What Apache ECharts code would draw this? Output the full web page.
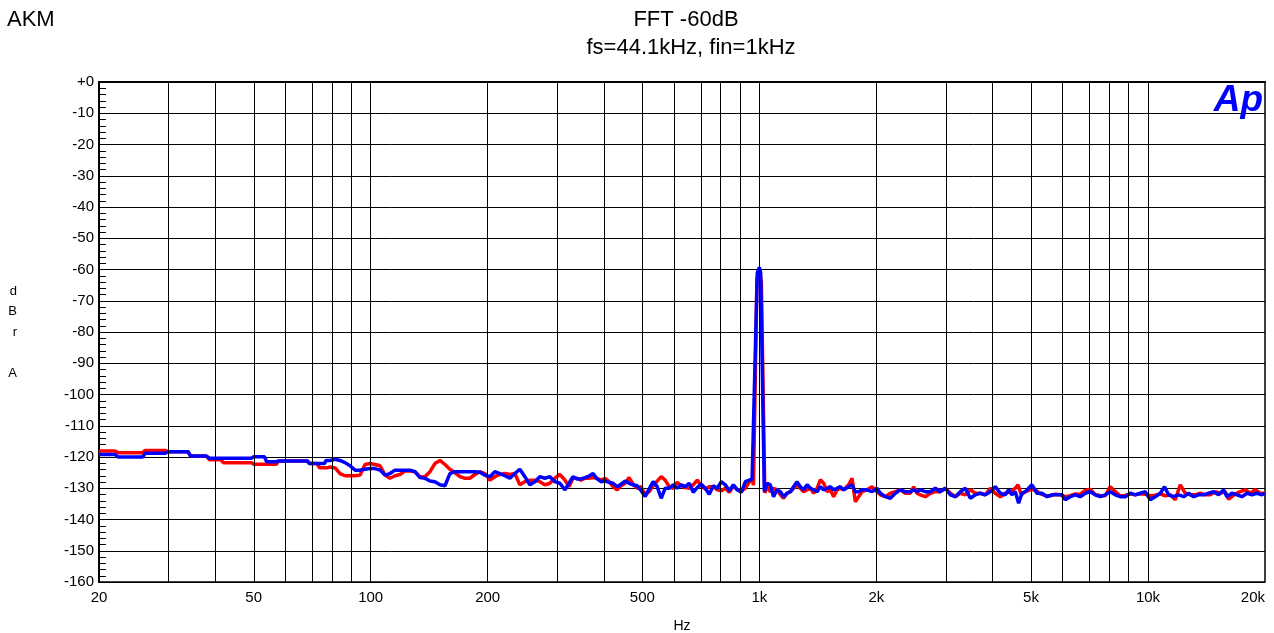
<!DOCTYPE html>
<html>
<head>
<meta charset="utf-8">
<script src="https://cdn.jsdelivr.net/npm/echarts@6/dist/echarts.min.js"></script>
<style>
  html, body { margin: 0; padding: 0; background: #fff; }
  #chart { width: 1274px; height: 633px; }
</style>
</head>
<body>
<div id="chart"></div>
<script>
// frequency labels and grid lines (Hz)
var labelFreqs = [20, 50, 100, 200, 500, 1000, 2000, 5000, 10000, 20000];
var gridFreqs = [30, 40, 50, 60, 70, 80, 90, 100, 200, 300, 400, 500, 600, 700, 800, 900,
  1000, 2000, 3000, 4000, 5000, 6000, 7000, 8000, 9000, 10000];

// red trace [Hz, dBr]
var redTrace = [
  [20, -118.1], [22.0, -118.1], [22.4, -118.6], [25.9, -118.6], [26.3, -117.9], [29.6, -117.9],
  [30.1, -118.3], [33.9, -118.3], [34.4, -119.7], [37.8, -119.7], [38.5, -120.9], [41.2, -120.9],
  [41.8, -121.8], [49.3, -121.8], [50.0, -122.3], [57.2, -122.3], [58.0, -121.3], [68.8, -121.3],
  [69.6, -122.1], [72.9, -122.1], [73.8, -123.4], [77.5, -123.4],
  [78.6, -123.2], [81.0, -123.5], [83.4, -125.3], [85.9, -126], [88.5, -126], [91.2, -126],
  [93.9, -125.8], [96.7, -122.4], [99.6, -122.1], [102.6, -122.4], [105.7, -122.8], [108.9, -125.8],
  [112.1, -126.8], [115.5, -126], [119.0, -125.6], [122.5, -124.5], [126.2, -124.5], [130.0, -124.7],
  [133.9, -126.3], [137.9, -126.3], [142.1, -124.7], [146.3, -122.1], [150.8, -121.1], [155.3, -122.4],
  [159.9, -123.9], [164.7, -125], [169.7, -126.3], [174.8, -126.8], [180.0, -126.8], [185.4, -125.6],
  [191.0, -124.7], [196.7, -125.3], [202.6, -127.4], [208.7, -126.3], [215.0, -125.6], [221.5, -125.3],
  [228.1, -125.6], [235.0, -125.3], [242.0, -128.9], [249.3, -127.9], [256.8, -127.4], [264.5, -127.4],
  [272.4, -127.9], [280.6, -128.9], [289.1, -128.4], [297.8, -126.8], [306.7, -125.6],
  [316.2, -127.4], [323.8, -129.5], [331.6, -126.8], [339.5, -126.8], [347.7, -127.4], [356.0, -126.8],
  [364.6, -126.8], [373.4, -126.6], [382.3, -126.8], [391.5, -127.4], [400.9, -126.8], [410.6, -127.9],
  [420.4, -129.5], [430.5, -130.5], [440.9, -129.2], [451.5, -128.4], [462.3, -126.6], [473.4, -128.7],
  [484.8, -130], [496.5, -129.5], [508.4, -132.1], [520.6, -131.1], [533.1, -129.2], [545.9, -127.7],
  [559.0, -126.3], [572.5, -127.4], [586.2, -129.5], [600.3, -130], [614.7, -128.1], [629.5, -129.2],
  [644.6, -129.8], [660.1, -130], [676.0, -128.9], [692.2, -127.4], [708.9, -129.2], [725.9, -130.2],
  [743.4, -129.5], [761.2, -129.5], [779.5, -130.5], [798.3, -130.8], [817.5, -130], [837.1, -131.3],
  [857.3, -129.2], [877.9, -130.5], [899.0, -130.8], [920.6, -130], [942.8, -127.9], [958, -127.4],
  [966, -129], [986, -63], [1000, -60.5], [1012, -64], [1033, -131.5],
  [1047, -129.5], [1067, -131.1], [1088, -130], [1110, -130.5], [1133, -132.1], [1155, -133.2],
  [1178, -131.6], [1202, -131.1], [1225, -130], [1250, -128.9], [1275, -130], [1300, -131.1],
  [1327, -130.5], [1353, -130], [1380, -131.6], [1408, -130], [1435, -127.3], [1464, -128.4],
  [1494, -131.1], [1523, -130.5], [1553, -132.7], [1585, -130.5], [1616, -130], [1648, -130.5],
  [1697, -128.9], [1732, -126.8], [1766, -134.3], [1801, -132.7], [1837, -131.1], [1893, -130.5],
  [1950, -129.5], [2008, -131.1], [2048, -132.1], [2110, -132.7], [2173, -131.6], [2238, -131.1],
  [2305, -130.5], [2375, -131.6], [2446, -131.6], [2495, -129.5], [2545, -131.6], [2595, -132.1],
  [2674, -132.7], [2754, -131.6], [2837, -131.1], [2923, -131.1], [3010, -130], [3100, -131.6],
  [3193, -132.7], [3289, -131.6], [3388, -132.1], [3490, -130.5], [3595, -131.6], [3703, -131.6],
  [3814, -132.1], [3928, -130], [4046, -131.6], [4169, -132.7],
  [4294, -131.6], [4423, -131.1], [4556, -130], [4628, -128.9], [4720, -132.1], [4834, -131.1],
  [4979, -130.5], [5129, -130.5], [5283, -131.8], [5442, -132.3], [5605, -132.4], [5774, -131.9],
  [5947, -132.1], [6126, -132.7], [6310, -132.4], [6500, -131.8], [6695, -131.9], [6896, -130.7],
  [7104, -130.3], [7317, -132.1], [7537, -132.3], [7764, -132.4], [7997, -129.5], [8076, -128.9],
  [8237, -131.1], [8485, -132.4], [8740, -132.3], [9003, -131.8], [9273, -132.1], [9552, -131.8],
  [9839, -131.9], [10135, -132.4], [10440, -132.2], [10753, -131.8], [11077, -132.4], [11410, -132.1],
  [11753, -133.7], [12106, -128.9], [12470, -131.6], [12845, -132.1], [13231, -132.1], [13629, -131.6],
  [14039, -132.1], [14461, -132.1], [14896, -131.1], [15343, -131.6], [15805, -131.1], [16121, -133.5],
  [16769, -131.8], [17273, -131.1], [17793, -130.5], [18328, -131.6], [18879, -130.5], [19446, -131.6],
  [20000, -131.6]
];

// blue trace [Hz, dBr]
var blueTrace = [
  [20, -119.2], [22.0, -119.2], [22.4, -120.0], [25.9, -120.0], [26.3, -118.8], [29.6, -118.8],
  [30.1, -118.3], [33.9, -118.3], [34.4, -119.7], [37.8, -119.7], [38.5, -120.4], [49.3, -120.4],
  [50.0, -119.9], [53.3, -119.9], [54.0, -121.5], [57.2, -121.5], [58.0, -121.3], [68.8, -121.3],
  [69.6, -122.1], [76.0, -122.1], [76.8, -121.1],
  [78.6, -121.1], [81.0, -120.7], [83.4, -121.1], [85.9, -121.8], [88.5, -122.8], [91.2, -124.2],
  [93.9, -124.2], [96.7, -123.9], [99.6, -123.7], [102.6, -123.7], [105.7, -124.2], [108.9, -125.8],
  [112.1, -125.3], [115.5, -124.2], [119.0, -124.2], [122.5, -124.2], [126.2, -124.2], [130.0, -124.7],
  [133.9, -126.6], [137.9, -126.8], [142.1, -127.7], [146.3, -127.9], [150.8, -128.9], [155.3, -129.2],
  [159.9, -125.3], [164.7, -124.7], [169.7, -124.7], [174.8, -124.7], [180.0, -124.7], [185.4, -124.7],
  [191.0, -124.9], [196.7, -125.8], [202.6, -126.3], [208.7, -124.7], [215.0, -125.3], [221.5, -126],
  [228.1, -126.8], [235.0, -125.3], [242.0, -123.9], [249.3, -126.3], [256.8, -128.9], [264.5, -127.9],
  [272.4, -126.3], [280.6, -126.8], [289.1, -126.3], [297.8, -127.9], [306.7, -128.4],
  [316.2, -130.5], [323.8, -128.4], [331.6, -126.3], [339.5, -127], [347.7, -127], [356.0, -126.6],
  [364.6, -126.1], [373.4, -125.3], [382.3, -127], [391.5, -127.9], [400.9, -127.7], [410.6, -128.1],
  [420.4, -128.4], [430.5, -129.5], [440.9, -128.7], [451.5, -127.7], [462.3, -128.4], [473.4, -128.9],
  [484.8, -129.2], [496.5, -130.8], [508.4, -132.6], [520.6, -130.2], [533.1, -127.9], [545.9, -129.5],
  [559.0, -133.2], [572.5, -130], [586.2, -130], [600.3, -128.9], [614.7, -130], [629.5, -128.9],
  [644.6, -129.5], [660.1, -128.4], [676.0, -131.3], [692.2, -129.8], [708.9, -128.7], [725.9, -130],
  [743.4, -131.9], [761.2, -129.2], [779.5, -130], [798.3, -127.9], [817.5, -128.9], [837.1, -130.8],
  [857.3, -128.9], [877.9, -130.5], [899.0, -131.3], [920.6, -127.9], [942.8, -127.4], [958, -127],
  [968, -127], [988, -61], [1000, -59.3], [1008, -61], [1030, -131],
  [1047, -128.4], [1067, -128.9], [1088, -132.7], [1110, -130.5], [1133, -131.1], [1155, -132.7],
  [1178, -131.6], [1202, -131.1], [1225, -129.5], [1250, -127.9], [1275, -129.5], [1300, -130.5],
  [1327, -128.9], [1353, -130], [1380, -130.5], [1408, -131.1], [1435, -129.5], [1464, -130.5],
  [1494, -130], [1523, -129.5], [1553, -130.5], [1585, -130], [1616, -129.5], [1648, -130.5],
  [1697, -129.5], [1732, -128.9], [1766, -131.1], [1801, -131.1], [1837, -130.5], [1893, -130.5],
  [1950, -131.1], [2008, -130], [2048, -131.6], [2110, -132.7], [2173, -133.2], [2238, -131.6],
  [2305, -130.5], [2375, -131.1], [2446, -131.1], [2495, -130.5], [2545, -131.1], [2595, -130.5],
  [2674, -131.1], [2754, -131.1], [2837, -130], [2923, -131.1], [3010, -130], [3100, -132.1],
  [3193, -132.7], [3289, -131.1], [3388, -130], [3490, -133.2], [3595, -132.1], [3703, -131.6],
  [3814, -132.1], [3928, -131.1], [4046, -129.5], [4169, -131.6],
  [4294, -132.1], [4380, -130.5], [4466, -132.1], [4556, -131.1], [4647, -134.8], [4739, -131.6],
  [4834, -131.1], [5028, -128.9], [5180, -131.6], [5335, -131.6], [5496, -132.7], [5660, -132.1],
  [5831, -132.1], [6006, -132.1], [6126, -133.7], [6310, -132.7], [6500, -132.1], [6695, -132.7],
  [6896, -131.6], [7104, -131.1], [7317, -132.1], [7537, -132.7], [7764, -132.1], [7997, -131.1],
  [8237, -132.1], [8485, -132.7], [8740, -132.7], [9003, -131.6], [9273, -132.1], [9552, -131.6],
  [9839, -131.1], [10135, -133.7], [10440, -132.7], [10753, -131.6], [11030, -129.5], [11300, -132.1],
  [11640, -132.7], [11990, -132.1], [12350, -132.7], [12720, -131.6], [13100, -132.7], [13500, -132.1],
  [13900, -132.1], [14320, -131.6], [14750, -131.1], [15190, -132.1], [15650, -130.5], [15960, -132.7],
  [16440, -131.6], [16940, -132.1], [17440, -132.7], [17970, -131.6], [18510, -132.1], [19070, -131.6],
  [19640, -132.1], [20000, -131.6]
];

var FONT = "Liberation Sans, Arial, sans-serif";

function toLog(trace) {
  return trace.map(function (p) { return [Math.log10(p[0]), p[1]]; });
}
function freqText(v) {
  var f = Math.round(Math.pow(10, v));
  return f >= 1000 ? (f / 1000) + "k" : String(f);
}

var chart = echarts.init(document.getElementById("chart"));
chart.setOption({
  animation: false,
  backgroundColor: "#fff",
  grid: {
    left: 99, right: 9, top: 82, bottom: 51,
    outerBoundsMode: "none",
    containLabel: false,
    show: true, borderColor: "#000", borderWidth: 1.5
  },
  graphic: [
    { type: "text", left: 7, top: 9, style: { text: "AKM", font: "22px " + FONT, fill: "#000" } },
    { type: "text", x: 686, y: 20, style: { text: "FFT -60dB", font: "22px " + FONT, fill: "#000", textAlign: "center", textVerticalAlign: "middle" } },
    { type: "text", x: 691, y: 48, style: { text: "fs=44.1kHz, fin=1kHz", font: "22px " + FONT, fill: "#000", textAlign: "center", textVerticalAlign: "middle" } },
    { type: "text", x: 1263, y: 101, z: 10, style: { text: "Ap", font: "italic bold 37px " + FONT, fill: "#0000ff", textAlign: "right", textVerticalAlign: "middle" } }
  ],
  xAxis: {
    type: "value",
    min: Math.log10(20),
    max: Math.log10(20000),
    name: "Hz",
    nameLocation: "middle",
    nameGap: 37,
    nameTextStyle: { fontFamily: FONT, fontSize: 14, color: "#000" },
    axisLine: { show: true, lineStyle: { color: "#000", width: 2 } },
    axisTick: { show: false },
    splitLine: { show: false },
    axisLabel: {
      customValues: labelFreqs.map(function (f) { return Math.log10(f); }),
      formatter: freqText,
      margin: 8,
      fontFamily: FONT, fontSize: 15, color: "#000",
      alignMaxLabel: "right"
    }
  },
  yAxis: {
    type: "value",
    min: -160, max: 0, interval: 10,
    name: "d\nB\nr\n\nA",
    nameLocation: "middle",
    nameRotate: 0,
    nameGap: 82,
    nameTextStyle: { fontFamily: FONT, fontSize: 13, color: "#000", lineHeight: 20.5 },
    axisLine: { show: true, lineStyle: { color: "#000", width: 2 } },
    axisTick: { show: true, inside: true, length: 7, lineStyle: { color: "#000" } },
    minorTick: { show: true, splitNumber: 5, length: 7, lineStyle: { color: "#000", width: 1 } },
    splitLine: { show: true, lineStyle: { color: "#000", width: 1 } },
    axisLabel: {
      margin: 5,
      fontFamily: FONT, fontSize: 15, color: "#000",
      formatter: function (v) { return v === 0 ? "+0" : String(v); }
    }
  },
  series: [
    {
      name: "grid",
      type: "line",
      data: [],
      silent: true,
      markLine: {
        silent: true,
        symbol: "none",
        label: { show: false },
        lineStyle: { color: "#000", width: 1, type: "solid" },
        data: gridFreqs.map(function (f) { return { xAxis: Math.log10(f) }; })
      }
    },
    {
      name: "red",
      type: "line",
      data: toLog(redTrace),
      showSymbol: false,
      lineStyle: { color: "#ff0000", width: 3.5 },
      itemStyle: { color: "#ff0000" }
    },
    {
      name: "blue",
      type: "line",
      data: toLog(blueTrace),
      showSymbol: false,
      lineStyle: { color: "#0000ff", width: 3.5 },
      itemStyle: { color: "#0000ff" }
    }
  ]
});
</script>
</body>
</html>
